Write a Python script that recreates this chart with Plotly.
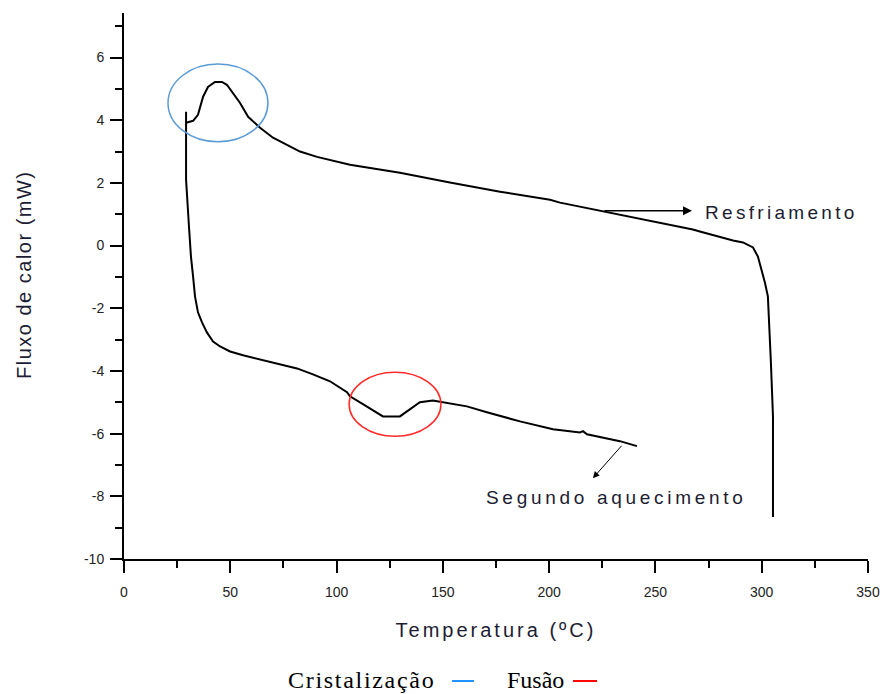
import plotly.graph_objects as go

# Cooling curve (Resfriamento): from 305 °C down to 29 °C
cool_T = [305.3, 305.3, 304.3, 303.4, 302.9, 301.5, 300.1, 298.2, 295.9, 291.2, 286.5, 278.9,
          270.9, 267.6, 244.1, 225.3, 223.9, 205.1, 200.4, 176.9, 153.3, 129.8, 106.3, 90.8,
          82.8, 76.7, 70.1, 64.0, 58.4, 54.6, 51.3, 48.4, 46.1, 42.8, 39.5, 37.2, 34.8, 32.5, 29.2]
cool_Q = [-8.66, -5.45, -3.69, -2.45, -1.62, -1.18, -0.83, -0.35, -0.06, 0.10, 0.16, 0.29,
          0.45, 0.51, 0.83, 1.08, 1.11, 1.37, 1.46, 1.72, 2.01, 2.32, 2.58, 2.83,
          3.00, 3.22, 3.44, 3.76, 4.11, 4.55, 4.87, 5.13, 5.22, 5.22, 5.06, 4.75, 4.17, 3.98, 3.92]

# Second heating curve (Segundo aquecimento)
heat_T = [29.2, 29.2, 30.6, 31.5, 32.5, 33.4, 34.8, 36.7, 39.0, 41.9, 45.2, 49.9, 56.0, 64.0,
          73.4, 81.4, 88.9, 96.9, 104.9, 106.3, 112.4, 121.8, 129.8, 134.5, 139.2, 145.3, 150.0,
          161.3, 170.7, 186.3, 201.8, 214.5, 215.9, 217.8, 233.3, 241.3]
heat_Q = [4.27, 2.10, 0.57, -0.35, -0.99, -1.62, -2.13, -2.45, -2.77, -3.06, -3.22, -3.38, -3.50, -3.63,
          -3.79, -3.92, -4.11, -4.33, -4.68, -4.81, -5.06, -5.45, -5.45, -5.22, -5.00, -4.94, -5.00,
          -5.13, -5.32, -5.61, -5.86, -5.96, -5.92, -6.02, -6.24, -6.40]

x_ticks = [0, 50, 100, 150, 200, 250, 300, 350]
y_ticks = [-10, -8, -6, -4, -2, 0, 2, 4, 6]

# Highlighted regions (ellipses) : (x0, x1, y0, y1)
cryst_region = (20.7, 67.7, 3.31, 5.79)
fusion_region = (105.9, 149.1, -6.08, -4.04)

fig = go.Figure()
line_style = dict(color="black", width=2)
fig.add_trace(go.Scatter(x=cool_T, y=cool_Q, mode="lines", line=line_style,
                         name="Resfriamento", showlegend=False))
fig.add_trace(go.Scatter(x=heat_T, y=heat_Q, mode="lines", line=line_style,
                         name="Segundo aquecimento", showlegend=False))

fig.add_shape(type="circle", xref="x", yref="y",
              x0=cryst_region[0], x1=cryst_region[1], y0=cryst_region[2], y1=cryst_region[3],
              line=dict(color="#5b9bd5", width=1.5))
fig.add_shape(type="circle", xref="x", yref="y",
              x0=fusion_region[0], x1=fusion_region[1], y0=fusion_region[2], y1=fusion_region[3],
              line=dict(color="#ff2a2a", width=1.5))

txt_font = dict(family="Liberation Sans, Arial", size=19, color="#1c1c33")

def spaced(s, sp=2):
    return f"<span style='letter-spacing:{sp}px'>{s}</span>"

# Arrows
fig.add_annotation(x=267.2, y=1.11, ax=225.3, ay=1.11, xref="x", yref="y", axref="x", ayref="y",
                   text="", showarrow=True, arrowhead=2, arrowsize=1.2, arrowwidth=1.5, arrowcolor="black")
fig.add_annotation(x=309.5, y=1.05, xref="x", yref="y", text=spaced("Resfriamento", 3.3),
                   showarrow=False, font=txt_font)
fig.add_annotation(x=220.6, y=-7.42, ax=234.7, ay=-6.34, xref="x", yref="y", axref="x", ayref="y",
                   text="", showarrow=True, arrowhead=2, arrowsize=1.3, arrowwidth=1, arrowcolor="black")
fig.add_annotation(x=231.4, y=-8.03, xref="x", yref="y", text=spaced("Segundo aquecimento", 3.7),
                   showarrow=False, font=txt_font)

# Y-axis title (as annotation to match its vertical offset); pixel -> paper coords
fig.add_annotation(x=(24 - 124) / 744, y=(559 - 275) / 546, xref="paper", yref="paper",
                   xanchor="center", yanchor="middle",
                   text=spaced("Fluxo de calor (mW)", 1.5), textangle=-90, showarrow=False,
                   font=dict(family="Liberation Sans, Arial", size=20, color="#1c1c33"))

# Bottom legend
serif = dict(family="Liberation Serif, Times New Roman", size=24, color="black")
fig.add_annotation(x=0.4207, y=-0.222, xref="paper", yref="paper", xanchor="right", yanchor="middle",
                   text=spaced("Cristalização", 1.7), showarrow=False, font=serif)
fig.add_annotation(x=0.594, y=-0.222, xref="paper", yref="paper", xanchor="right", yanchor="middle",
                   text="Fusão", showarrow=False, font=serif)
fig.add_shape(type="line", xref="paper", yref="paper", x0=0.4409, x1=0.4704, y0=-0.2235, y1=-0.2235,
              line=dict(color="#1e90ff", width=2))
fig.add_shape(type="line", xref="paper", yref="paper", x0=0.6035, x1=0.6358, y0=-0.2235, y1=-0.2235,
              line=dict(color="#ff0000", width=2))

axis_common = dict(showline=True, linecolor="black", linewidth=2, ticks="outside", ticklen=12,
                   tickwidth=2, tickcolor="black", showgrid=False, zeroline=False, mirror=False,
                   automargin=False,
                   tickfont=dict(family="Liberation Sans, Arial", size=14, color="#222222"))

fig.update_layout(
    width=887, height=694,
    margin=dict(l=124, r=19, t=13, b=135),
    plot_bgcolor="white", paper_bgcolor="white",
    xaxis=dict(range=[0, 350], tickvals=x_ticks, ticktext=[str(v) for v in x_ticks],
               minor=dict(dtick=25, ticklen=7, tickwidth=2, ticks="outside", tickcolor="black"),
               ticklabelstandoff=7,
               title=dict(text=spaced("Temperatura (ºC)", 3), standoff=24,
                          font=dict(family="Liberation Sans, Arial", size=20, color="#1c1c33")),
               **axis_common),
    yaxis=dict(range=[-10, 7.42], tickvals=y_ticks, ticktext=[str(v) for v in y_ticks],
               minor=dict(dtick=1, ticklen=7, tickwidth=2, ticks="outside", tickcolor="black"),
               ticklabelstandoff=3,
               **axis_common),
)

fig.write_html("out.html")
